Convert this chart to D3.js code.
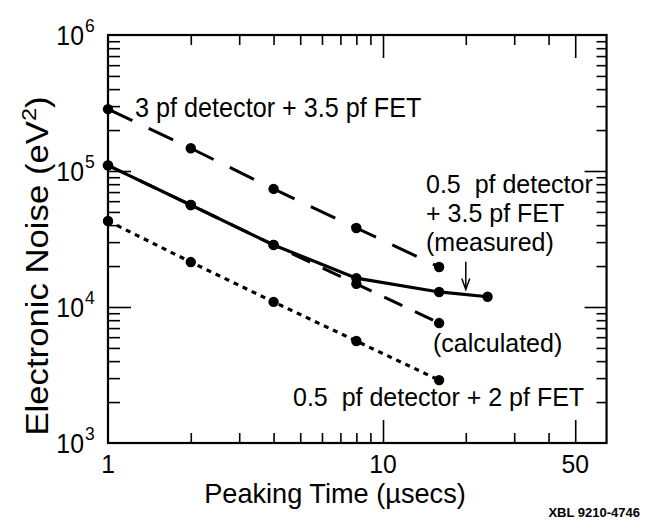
<!DOCTYPE html>
<html>
<head>
<meta charset="utf-8">
<script src="https://cdn.jsdelivr.net/npm/d3@7"></script>
<style>
  html, body { margin: 0; padding: 0; background: #fff; }
  svg { display: block; }
  text { font-family: "Liberation Sans", Arial, Helvetica, sans-serif; fill: #000; }
</style>
</head>
<body>
<svg id="chart" width="653" height="526"></svg>
<script>
// ---- data ----
const peakingTime = [1, 2, 4, 8, 16];
const measuredTime = [1, 2, 4, 8, 16, 24];
const noise3pfDet = [285000, 147000, 73800, 38100, 19700];
const noiseMeasured = [110000, 56200, 28600, 16300, 12900, 11900];
const noiseCalculated = [110000, 56200, 28600, 14800, 7620];
const noise2pfFet = [42900, 21400, 10900, 5620, 2900];

const xMinorTicks = [2, 3, 4, 5, 6, 7, 8, 9, 20, 30, 40];
const xMajorTicks = [10, 50];
const xTickLabels = [1, 10, 50];
const yMajorTicks = [1e4, 1e5];
const yTickLabels = [1e3, 1e4, 1e5, 1e6];
const yExponents = ["3", "4", "5", "6"];

// ---- layout ----
const svg = d3.select("#chart");
const x = d3.scaleLog().domain([1, 65]).range([108, 108 + 275 * Math.log10(65)]);
const y = d3.scaleLog().domain([1e3, 1e6]).range([443, 35]);
const yMinorTicks = [];
[1e3, 1e4, 1e5].forEach(d => { for (let k = 2; k <= 9; k++) yMinorTicks.push(d * k); });

const [x0, x1] = x.range();
const [yb, yt] = y.range();

function styleAxis(g) {
  g.select(".domain").remove();
  g.selectAll(".tick line").attr("stroke", "#000").attr("stroke-width", 1.6);
}

// bottom ticks (inward)
svg.append("g").attr("transform", `translate(0,${yb})`)
  .call(d3.axisBottom(x).tickValues(xMinorTicks).tickSize(-10).tickFormat("")).call(styleAxis);
svg.append("g").attr("transform", `translate(0,${yb})`)
  .call(d3.axisBottom(x).tickValues(xMajorTicks).tickSize(-23).tickFormat("")).call(styleAxis);
// top ticks (inward)
svg.append("g").attr("transform", `translate(0,${yt})`)
  .call(d3.axisTop(x).tickValues(xMinorTicks).tickSize(-10).tickFormat("")).call(styleAxis);
svg.append("g").attr("transform", `translate(0,${yt})`)
  .call(d3.axisTop(x).tickValues(xMajorTicks).tickSize(-23).tickFormat("")).call(styleAxis);
// left ticks
svg.append("g").attr("transform", `translate(${x0},0)`)
  .call(d3.axisLeft(y).tickValues(yMinorTicks).tickSize(-12).tickFormat("")).call(styleAxis);
svg.append("g").attr("transform", `translate(${x0},0)`)
  .call(d3.axisLeft(y).tickValues(yMajorTicks).tickSize(-23).tickFormat("")).call(styleAxis);
// right ticks
svg.append("g").attr("transform", `translate(${x1},0)`)
  .call(d3.axisRight(y).tickValues(yMinorTicks).tickSize(-10).tickFormat("")).call(styleAxis);
svg.append("g").attr("transform", `translate(${x1},0)`)
  .call(d3.axisRight(y).tickValues(yMajorTicks).tickSize(-22).tickFormat("")).call(styleAxis);

// frame
svg.append("rect")
  .attr("x", x0).attr("y", yt).attr("width", x1 - x0).attr("height", yb - yt)
  .attr("fill", "none").attr("stroke", "#000").attr("stroke-width", 2.2);

// text helper (optionally condensed horizontally)
function ctext(parent, px, py, size, anchor, sx) {
  return parent.append("text")
    .attr("transform", `translate(${px},${py}) scale(${sx || 1},1)`)
    .attr("text-anchor", anchor || "start")
    .attr("xml:space", "preserve")
    .style("font-size", size + "px");
}

// x tick labels
xTickLabels.forEach(v => {
  ctext(svg, x(v), 473, 26, "middle", 0.95).text(d3.format("d")(v));
});

// y tick labels with superscripts
yTickLabels.forEach((v, i) => {
  ctext(svg, 84, y(v) + 10, 27, "end", 0.92).text("10");
  ctext(svg, 85, y(v) - 3, 19, "start", 0.92).text(yExponents[i]);
});

// axis titles
ctext(svg, 335, 503, 28, "middle", 0.97).text("Peaking Time (µsecs)");

const ytl = svg.append("text")
  .attr("transform", `translate(48,266) rotate(-90) scale(1.12,1)`)
  .attr("text-anchor", "middle")
  .style("font-size", "31px");
ytl.append("tspan").text("Electronic Noise (eV");
ytl.append("tspan").attr("dy", -12).style("font-size", "21px").text("2");
ytl.append("tspan").attr("dy", 12).text(")");

// ---- series ----
const line = d3.line().x(d => x(d[0])).y(d => y(d[1]));
function series(xs, ys, dash, width) {
  const pts = xs.map((v, i) => [v, ys[i]]);
  svg.append("path").datum(pts)
    .attr("d", line)
    .attr("fill", "none").attr("stroke", "#000")
    .attr("stroke-width", width)
    .attr("stroke-dasharray", dash)
    .attr("stroke-linecap", "butt");
  svg.append("g").selectAll("circle").data(pts).join("circle")
    .attr("cx", d => x(d[0])).attr("cy", d => y(d[1])).attr("r", 5.2)
    .attr("fill", "#000");
}
series(peakingTime, noiseCalculated, "20,14", 3);
series(measuredTime, noiseMeasured, null, 3.2);
series(peakingTime, noise3pfDet, "27,18", 3);
series(peakingTime, noise2pfFet, "5,5", 3.2);

// ---- annotations ----
ctext(svg, 135, 117, 28, "start", 0.9).text("3 pf detector + 3.5 pf FET");
ctext(svg, 426, 193, 25).text("0.5  pf detector");
ctext(svg, 426, 222, 25).text("+ 3.5 pf FET");
ctext(svg, 426, 251, 25).text("(measured)");
ctext(svg, 433, 352, 25).text("(calculated)");
ctext(svg, 293, 406, 25).text("0.5  pf detector + 2 pf FET");

// arrow
const arrowX = 20, arrowFrom = 21500, arrowTo = 12350;
svg.append("line")
  .attr("x1", x(arrowX)).attr("x2", x(arrowX))
  .attr("y1", y(arrowFrom)).attr("y2", y(arrowTo) - 6)
  .attr("stroke", "#000").attr("stroke-width", 1.5);
svg.append("path")
  .attr("d", `M${x(arrowX) - 4},${y(arrowTo) - 16} L${x(arrowX)},${y(arrowTo) - 5} L${x(arrowX) + 4},${y(arrowTo) - 16}`)
  .attr("fill", "none").attr("stroke", "#000").attr("stroke-width", 1.5);

// figure id
svg.append("text").attr("x", 640).attr("y", 517).attr("text-anchor", "end")
  .style("font-size", "13px").style("font-weight", "bold")
  .text("XBL 9210-4746");
</script>
</body>
</html>
